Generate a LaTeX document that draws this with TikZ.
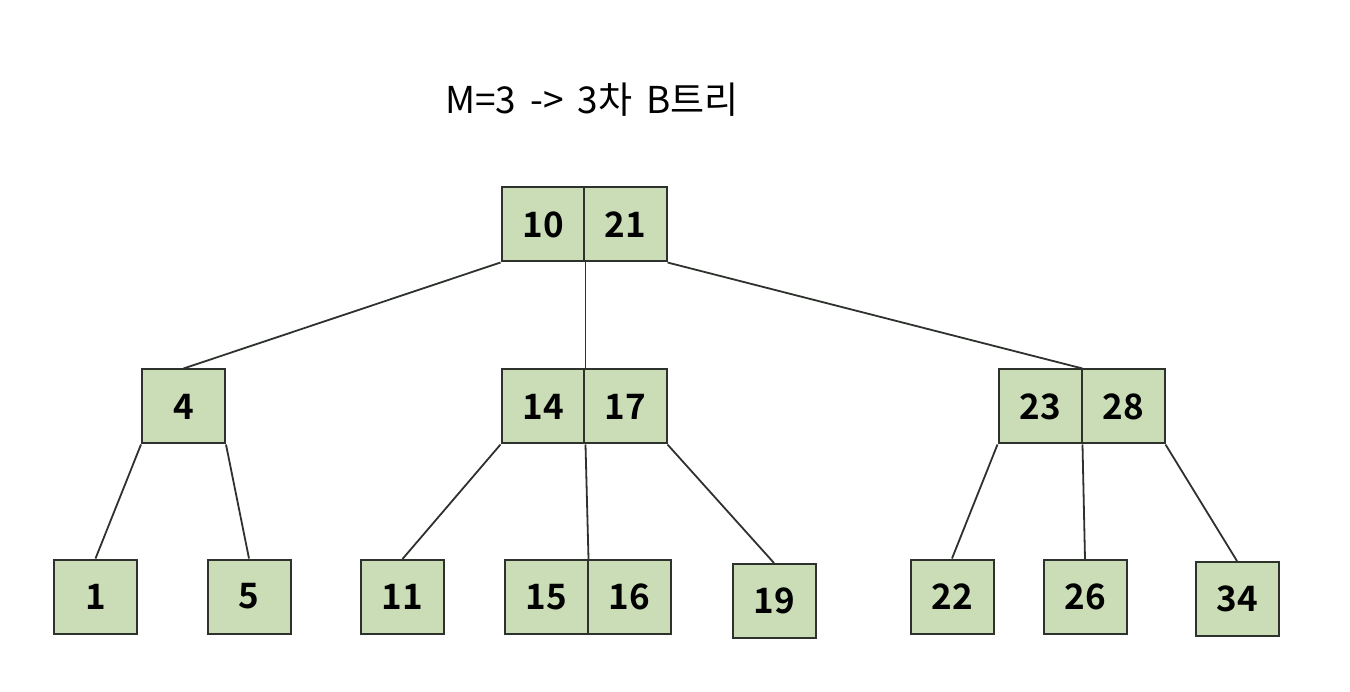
\documentclass[tikz,border=0pt]{standalone}
\usepackage{fontspec}
\newfontfamily\krfont{Noto Sans CJK KR}
\newfontfamily\numfont{Noto Sans CJK KR Bold}
\definecolor{cellfill}{RGB}{202,221,183}
\definecolor{cellline}{RGB}{45,50,45}
\begin{document}
\begin{tikzpicture}[x=1pt,y=-1pt,
  cell/.style={draw=cellline,fill=cellfill,line width=2pt,minimum width=83pt,minimum height=74pt,inner sep=0pt,font=\numfont\fontsize{35}{38}\selectfont},
  edge/.style={draw=cellline,line width=1.8pt}]
\path[fill=white] (0,0) rectangle (1350,692);
\useasboundingbox (0,0) rectangle (1350,692);
\node[font=\krfont\fontsize{37}{42}\selectfont] (title) at (592,100) {M=3\hspace{0.38em}->\hspace{0.38em}3차\hspace{0.38em}B트리};
% root
\node[cell] (r1) at (543,224.5) {10};
\node[cell] (r2) at (625,224.5) {21};
% level 2
\node[cell] (n4) at (183.5,406.5) {4};
\node[cell] (m1) at (543,406.5) {14};
\node[cell] (m2) at (625,406.5) {17};
\node[cell] (c1) at (1040,406.5) {23};
\node[cell] (c2) at (1123,406.5) {28};
% level 3
\node[cell] (l1) at (95.5,596.5) {1};
\node[cell] (l5) at (249,596.5) {5};
\node[cell] (l11) at (402.5,597) {11};
\node[cell] (l15) at (546,597) {15};
\node[cell] (l16) at (629,597) {16};
\node[cell] (l19) at (774,601) {19};
\node[cell] (l22) at (952,596.5) {22};
\node[cell] (l26) at (1085,597) {26};
\node[cell] (l34) at (1237,599) {34};
% edges
\draw[edge] (r1.south west) -- (n4.north);
\draw[edge] (r1.south east) -- (m1.north east);
\draw[edge] (r2.south east) -- (c1.north east);
\draw[edge] (n4.south west) -- (l1.north);
\draw[edge] (n4.south east) -- (l5.north);
\draw[edge] (m1.south west) -- (l11.north);
\draw[edge] (m1.south east) -- (l15.north east);
\draw[edge] (m2.south east) -- (l19.north);
\draw[edge] (c1.south west) -- (l22.north);
\draw[edge] (c1.south east) -- (l26.north);
\draw[edge] (c2.south east) -- (l34.north);
\end{tikzpicture}
\end{document}
